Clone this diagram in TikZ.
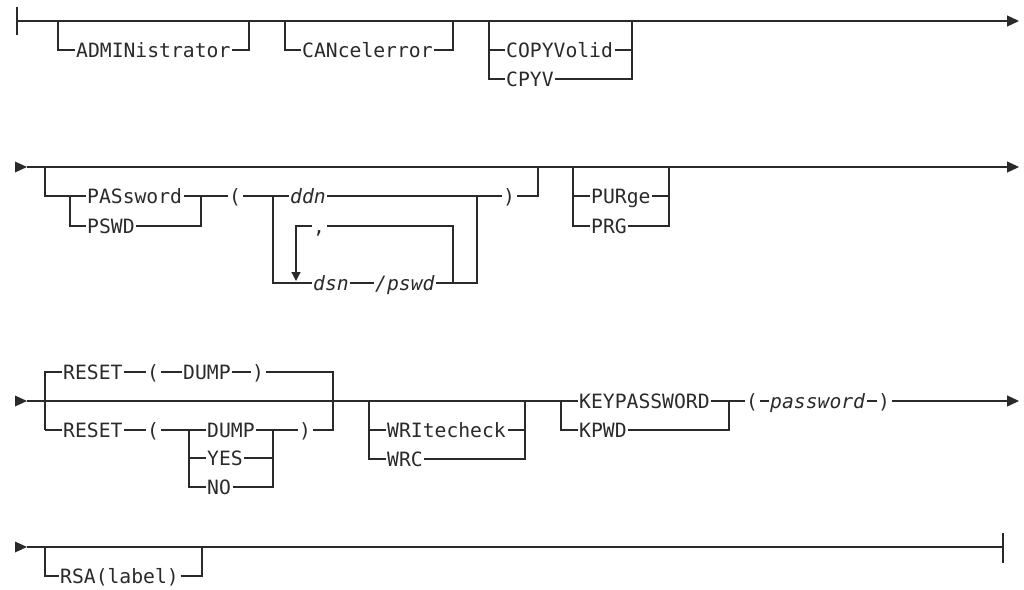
\documentclass[tikz,border=0pt]{standalone}
\usepackage{fontspec}
\usetikzlibrary{arrows.meta}
\newfontfamily\kwf{DejaVu Sans Mono}
\definecolor{ink}{HTML}{2A2A2A}
\tikzset{
  rr/.style={line width=1.3pt, draw=ink},
  endarrow/.style={-{Triangle[length=12pt,width=11pt]}},
  downarrow/.style={-{Triangle[length=9pt,width=9pt]}},
  kw/.style={font={\fontsize{19.7pt}{22pt}\selectfont\kwf}, text=ink,
             inner xsep=1.5pt, inner ysep=0pt, text height=14.4pt, text depth=0pt, anchor=west},
  var/.style={kw, font={\fontsize{19.7pt}{22pt}\selectfont\kwf\itshape}},
}
\begin{document}
\begin{tikzpicture}[x=1pt,y=-1pt]
\useasboundingbox (0,0) rectangle (1024,589);

% ---------- Row 1 ----------
\coordinate (r1s) at (17,21);
\coordinate (r1e) at (1019,21);
\draw[rr] (17,7) -- (17,35);
\draw[rr,endarrow] (r1s) -- (r1e);
\node[kw] (admin) at (74.5,50) {ADMINistrator};
\draw[rr] (58,21) |- (admin.west);
\draw[rr] (admin.east) -| (249,21);
\node[kw] (cancel) at (300.5,50) {CANcelerror};
\draw[rr] (285,21) |- (cancel.west);
\draw[rr] (cancel.east) -| (453,21);
\node[kw] (copyv) at (504.5,50) {COPYVolid};
\node[kw] (cpyv) at (504.5,79) {CPYV};
\draw[rr] (489,21) |- (cpyv.west);
\draw[rr] (489,50) -- (copyv.west);
\draw[rr] (copyv.east) -| (632,21);
\draw[rr] (cpyv.east) -| (632,50);

% ---------- Row 2 ----------
\fill[ink] (15,161.5) -- (27,167) -- (15,172.5) -- cycle;
\coordinate (r2s) at (27,167);
\coordinate (r2e) at (1019,167);
\draw[rr,endarrow] (r2s) -- (r2e);
\node[kw] (pas) at (85.5,196) {PASsword};
\node[kw] (pswd) at (85.5,226) {PSWD};
\node[kw] (lp2) at (227.5,196) {(};
\node[var] (ddn) at (288.5,196) {ddn};
\node[var] (dsn) at (311.5,283) {dsn};
\node[var] (spw) at (373.5,283) {/pswd};
\node[kw] (comma) at (311.5,226) {,};
\node[kw] (rp2) at (501.5,196) {)};
\draw[rr] (45,167) |- (pas.west);
\draw[rr] (70,196) |- (pswd.west);
\draw[rr] (pas.east) -- (lp2.west);
\draw[rr] (pswd.east) -| (201,196);
\draw[rr] (lp2.east) -- (ddn.west);
\draw[rr] (273,196) |- (dsn.west);
\draw[rr] (dsn.east) -- (spw.west);
\draw[rr] (ddn.east) -- (rp2.west);
\draw[rr] (spw.east) -| (477,196);
\draw[rr] (rp2.east) -| (538,167);
\draw[rr] (453,283) |- (comma.east);
\draw[rr,downarrow] (comma.west) -| (296,281);
\node[kw] (pur) at (589.5,196) {PURge};
\node[kw] (prg) at (589.5,226) {PRG};
\draw[rr] (573,167) |- (prg.west);
\draw[rr] (573,196) -- (pur.west);
\draw[rr] (pur.east) -| (669,167);
\draw[rr] (prg.east) -| (669,196);

% ---------- Row 3 ----------
\fill[ink] (15,395.5) -- (27,401) -- (15,406.5) -- cycle;
\coordinate (r3s) at (27,401);
\coordinate (r3e) at (1019,401);
\node[kw] (reset1) at (61.5,372) {RESET};
\node[kw] (lpa) at (145.5,372) {(};
\node[kw] (dump1) at (181.5,372) {DUMP};
\node[kw] (rpa) at (250.5,372) {)};
\draw[rr] (reset1.west) -| (45,430);
\draw[rr] (reset1.east) -- (lpa.west);
\draw[rr] (lpa.east) -- (dump1.west);
\draw[rr] (dump1.east) -- (rpa.west);
\node[kw] (reset2) at (61.5,430) {RESET};
\node[kw] (lpb) at (145.5,430) {(};
\node[kw] (dump2) at (205.5,430) {DUMP};
\node[kw] (yes) at (205.5,458) {YES};
\node[kw] (no) at (205.5,487) {NO};
\node[kw] (rpb) at (297.5,430) {)};
\draw[rr] (45,430) -- (reset2.west);
\draw[rr] (reset2.east) -- (lpb.west);
\draw[rr] (lpb.east) -- (dump2.west);
\draw[rr] (189,430) |- (no.west);
\draw[rr] (189,458) -- (yes.west);
\draw[rr] (dump2.east) -- (rpb.west);
\draw[rr] (no.east) -| (273,430);
\draw[rr] (yes.east) -- (273,458);
\draw[rr] (rpa.east) -| (333,430) -- (rpb.east);
\node[kw] (wri) at (385.5,430) {WRItecheck};
\node[kw] (wrc) at (385.5,459) {WRC};
\draw[rr] (369,401) |- (wrc.west);
\draw[rr] (369,430) -- (wri.west);
\draw[rr] (wri.east) -| (525,401);
\draw[rr] (wrc.east) -| (525,430);
\node[kw] (key) at (577.5,401) {KEYPASSWORD};
\node[kw] (kpwd) at (577.5,430) {KPWD};
\node[kw] (lpk) at (744.5,401) {(};
\node[var] (pwd) at (768.5,401) {password};
\node[kw] (rpk) at (876.5,401) {)};
\draw[rr] (r3s) -- (key.west);
\draw[rr] (561,401) |- (kpwd.west);
\draw[rr] (kpwd.east) -| (729,401);
\draw[rr] (key.east) -- (lpk.west);
\draw[rr] (lpk.east) -- (pwd.west);
\draw[rr] (pwd.east) -- (rpk.west);
\draw[rr,endarrow] (rpk.east) -- (r3e);

% ---------- Row 4 ----------
\fill[ink] (15,541.5) -- (27,547) -- (15,552.5) -- cycle;
\coordinate (r4s) at (27,547);
\coordinate (r4e) at (1003,547);
\draw[rr] (r4s) -- (r4e);
\draw[rr] (1003,533) -- (1003,563);
\node[kw] (rsa) at (58.5,576) {RSA(label)};
\draw[rr] (45,547) |- (rsa.west);
\draw[rr] (rsa.east) -| (202,547);
\end{tikzpicture}
\end{document}
